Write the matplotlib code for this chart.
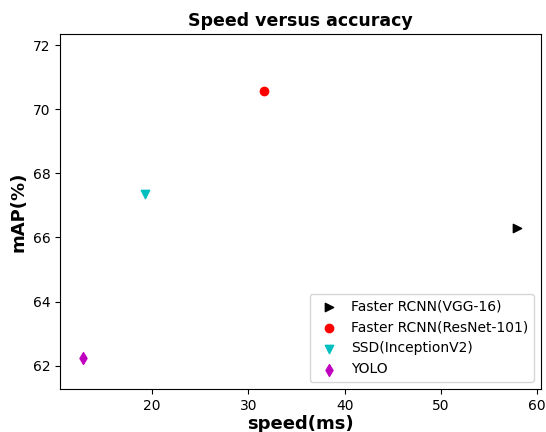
import matplotlib
matplotlib.use("Agg")
import matplotlib.pyplot as plt

# data
models = ["Faster RCNN(VGG-16)", "Faster RCNN(ResNet-101)", "SSD(InceptionV2)", "YOLO"]
speed_ms = [57.9, 31.6, 19.3, 12.8]
map_pct = [66.3, 70.56, 67.35, 62.23]
markers = [">", "o", "v", "d"]
colors = ["k", "r", "c", "m"]

fig = plt.figure(figsize=(5.46, 4.32), dpi=100)
ax = fig.add_axes([0.11, 0.10, 0.881, 0.821])

for name, x, y, mk, c in zip(models, speed_ms, map_pct, markers, colors):
    ax.scatter(x, y, marker=mk, color=c, s=36, label=name)

ax.set_xlim(10.45, 60.4)
ax.set_ylim(61.28, 72.34)
ax.set_xticks([20, 30, 40, 50, 60])
ax.set_yticks([62, 64, 66, 68, 70, 72])
ax.tick_params(labelsize=10)

ax.set_title("Speed versus accuracy", fontsize=12.5, weight="bold")
ax.set_xlabel("speed(ms)", fontsize=13, weight="bold", labelpad=2)
ax.set_ylabel("mAP(%)", fontsize=13, weight="bold")
ax.legend(loc="lower right", fontsize=10, handletextpad=0.6)

fig.savefig("out.png", dpi=100)
